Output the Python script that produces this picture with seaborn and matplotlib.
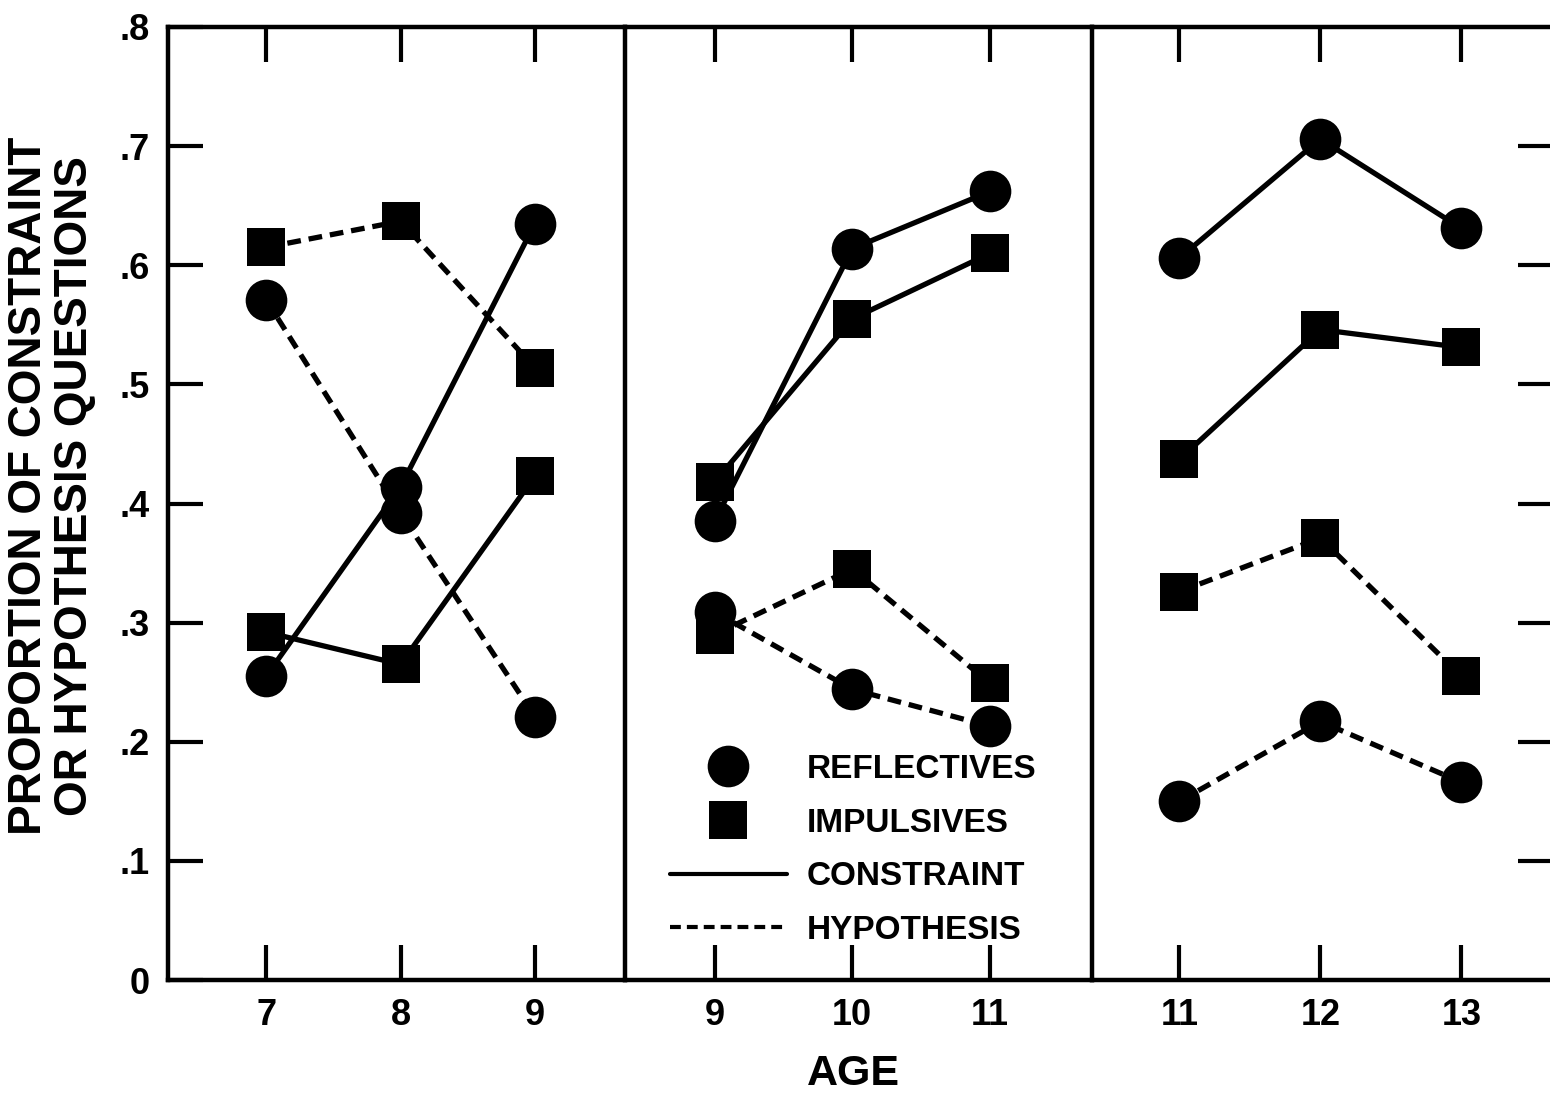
import numpy as np
import pandas as pd
import matplotlib
matplotlib.use("Agg")
import matplotlib.pyplot as plt
import seaborn as sns
from matplotlib.lines import Line2D

# ---------------- data ----------------
ages_p1 = [7, 8, 9]
ages_p2 = [9, 10, 11]
ages_p3 = [11, 12, 13]

refl_constraint_p1 = [0.255, 0.414, 0.635]
impl_constraint_p1 = [0.292, 0.265, 0.423]
refl_hypothesis_p1 = [0.571, 0.392, 0.221]
impl_hypothesis_p1 = [0.615, 0.637, 0.514]

refl_constraint_p2 = [0.385, 0.614, 0.662]
impl_constraint_p2 = [0.418, 0.555, 0.610]
refl_hypothesis_p2 = [0.309, 0.244, 0.213]
impl_hypothesis_p2 = [0.290, 0.345, 0.249]

refl_constraint_p3 = [0.606, 0.706, 0.631]
impl_constraint_p3 = [0.437, 0.546, 0.531]
refl_hypothesis_p3 = [0.150, 0.217, 0.166]
impl_hypothesis_p3 = [0.326, 0.371, 0.255]

y_ticks = [0, 0.1, 0.2, 0.3, 0.4, 0.5, 0.6, 0.7, 0.8]
y_tick_labels = ["0", ".1", ".2", ".3", ".4", ".5", ".6", ".7", ".8"]
legend_labels = ["REFLECTIVES", "IMPULSIVES", "CONSTRAINT", "HYPOTHESIS"]
y_label = "PROPORTION OF CONSTRAINT\nOR HYPOTHESIS QUESTIONS"
x_label = "AGE"

# ---------------- style ----------------
sns.set_style("white")
plt.rcParams["font.family"] = ["Liberation Sans", "DejaVu Sans"]
plt.rcParams["text.color"] = "black"
plt.rcParams["axes.labelcolor"] = "black"
plt.rcParams["xtick.color"] = "black"
plt.rcParams["ytick.color"] = "black"

W, H = 1550, 1093
fig = plt.figure(figsize=(W / 100, H / 100), dpi=100)

bottom_px, top_px = 980, 27
y0 = 1 - bottom_px / H
hgt = (bottom_px - top_px) / H
edges = [168, 625, 1092, 1560]
xlims = [(6.27, 9.67), (8.35, 11.74), (10.38, 13.70)]
panels = [
    (ages_p1, refl_constraint_p1, impl_constraint_p1, refl_hypothesis_p1, impl_hypothesis_p1),
    (ages_p2, refl_constraint_p2, impl_constraint_p2, refl_hypothesis_p2, impl_hypothesis_p2),
    (ages_p3, refl_constraint_p3, impl_constraint_p3, refl_hypothesis_p3, impl_hypothesis_p3),
]

DASH = (2.6, 1.5)
markers = {"refl_con": "o", "impl_con": "s", "refl_hyp": "o", "impl_hyp": "s"}
dashes = {"refl_con": "", "impl_con": "", "refl_hyp": DASH, "impl_hyp": DASH}
palette = {k: "black" for k in markers}
sizes_pt = {"o": 30, "s": 28}

axes = []
for i, (ages, rc, ic, rh, ih) in enumerate(panels):
    ax = fig.add_axes([edges[i] / W, y0, (edges[i + 1] - edges[i]) / W, hgt])
    ax.patch.set_visible(False)
    axes.append(ax)
    df = pd.concat([
        pd.DataFrame({"age": ages, "prop": rc, "series": "refl_con"}),
        pd.DataFrame({"age": ages, "prop": ic, "series": "impl_con"}),
        pd.DataFrame({"age": ages, "prop": rh, "series": "refl_hyp"}),
        pd.DataFrame({"age": ages, "prop": ih, "series": "impl_hyp"}),
    ], ignore_index=True)
    sns.lineplot(data=df, x="age", y="prop", hue="series", style="series",
                 markers=markers, dashes=dashes, palette=palette,
                 markersize=28, linewidth=3.8, markeredgewidth=0,
                 errorbar=None, legend=False, ax=ax)
    for ln in ax.get_lines():
        ln.set_markersize(sizes_pt.get(ln.get_marker(), 28))
    ax.set_xlim(*xlims[i])
    ax.set_ylim(0, 0.8)
    ax.set_xticks(ages)
    ax.set_xticklabels([str(a) for a in ages])
    ax.set_xlabel("")
    ax.set_ylabel("")
    ax.tick_params(axis="x", which="both", top=True, bottom=True, direction="in",
                   length=25, width=3, color="black", pad=13,
                   labelsize=26, labelcolor="black")
    for lab in ax.get_xticklabels():
        lab.set_fontweight("bold")
    for s in ax.spines.values():
        s.set_linewidth(3.2)
        s.set_color("black")
    if i == 0:
        ax.set_yticks(y_ticks)
        ax.set_yticklabels(y_tick_labels)
        ax.tick_params(axis="y", left=True, right=False, direction="in",
                       length=25, width=3, color="black", pad=13,
                       labelsize=26, labelcolor="black")
        for lab in ax.get_yticklabels():
            lab.set_fontweight("bold")
    elif i == 1:
        ax.spines["left"].set_visible(False)
        ax.set_yticks([])
    else:
        ax.spines["left"].set_visible(False)
        ax.set_yticks(y_ticks[1:-1])
        ax.tick_params(axis="y", left=False, right=True, labelleft=False,
                       labelright=False, direction="in", length=30, width=3,
                       color="black")

# legend
handles = [
    Line2D([], [], marker="o", color="black", linestyle="None", markersize=30, markeredgewidth=0),
    Line2D([], [], marker="s", color="black", linestyle="None", markersize=28, markeredgewidth=0),
    Line2D([], [], color="black", linewidth=3),
    Line2D([], [], color="black", linewidth=3, linestyle=(0, (2.6, 1.45))),
]
leg = fig.legend(handles, legend_labels, loc="upper left",
                 bbox_to_anchor=(670 / W, 1 - 754 / H), frameon=False,
                 prop={"size": 24, "weight": "bold"}, handlelength=3.5,
                 handletextpad=0.6, labelspacing=0.68, borderpad=0, borderaxespad=0)
for t in leg.get_texts():
    t.set_color("black")

fig.text(52 / W, 1 - 486 / H, y_label, rotation=90, ha="center", va="center",
         multialignment="center", fontsize=33, fontweight="bold", linespacing=1.08,
         color="black")
fig.text(853 / W, 1 - 1074 / H, x_label, ha="center", va="center",
         fontsize=31, fontweight="bold", color="black")

fig.savefig("out.png", dpi=100, facecolor="white")
